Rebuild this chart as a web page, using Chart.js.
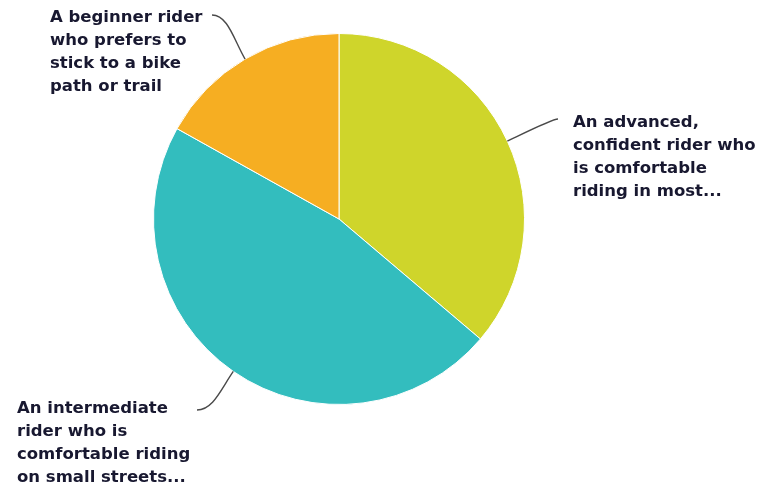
<!DOCTYPE html>
<html>
<head>
<meta charset="utf-8">
<script src="https://cdn.jsdelivr.net/npm/chart.js@4.4.1/dist/chart.umd.min.js"></script>
<style>
  html, body { margin: 0; padding: 0; background: #fff; }
  #wrap { width: 761px; height: 490px; position: relative; }
</style>
</head>
<body>
<div id="wrap"><canvas id="riders"></canvas></div>
<script>
  // Rider types (label lines) and share of responses, in percent
  const riderLabels = [
    ['An advanced,', 'confident rider who', 'is comfortable', 'riding in most...'],
    ['An intermediate', 'rider who is', 'comfortable riding', 'on small streets...'],
    ['A beginner rider', 'who prefers to', 'stick to a bike', 'path or trail']
  ];
  const riderShares = [36.2, 46.9, 16.9];
  const sliceColors = ['#cfd52b', '#33bdbe', '#f6ae22'];

  // Where each callout text block sits and where its leader line ends
  const calloutLayout = [
    { textX: 573, textY: 123, endX: 558, endY: 119, bend: 12, hook: -6 },
    { textX: 17, textY: 409, endX: 197, endY: 410, bend: 22, hook: 16 },
    { textX: 50, textY: 18, endX: 212, endY: 15, bend: 22, hook: 16 }
  ];

  const calloutPlugin = {
    id: 'callouts',
    afterDatasetsDraw(chart) {
      const ctx = chart.ctx;
      const meta = chart.getDatasetMeta(0);
      ctx.save();
      meta.data.forEach((arc, i) => {
        const lay = calloutLayout[i];
        const mid = (arc.startAngle + arc.endAngle) / 2;
        const r = arc.outerRadius;
        const sx = arc.x + Math.cos(mid) * r;
        const sy = arc.y + Math.sin(mid) * r;
        const c1x = arc.x + Math.cos(mid) * (r + lay.bend);
        const c1y = arc.y + Math.sin(mid) * (r + lay.bend);

        // leader line
        ctx.beginPath();
        ctx.moveTo(sx, sy);
        ctx.bezierCurveTo(c1x, c1y, lay.endX + lay.hook, lay.endY, lay.endX, lay.endY);
        ctx.strokeStyle = '#4a4a4a';
        ctx.lineWidth = 1.4;
        ctx.stroke();

        // label text
        ctx.fillStyle = '#181830';
        ctx.font = 'bold 16.5px "DejaVu Sans", sans-serif';
        ctx.textAlign = 'left';
        ctx.textBaseline = 'middle';
        chart.data.labels[i].forEach((line, k) => {
          ctx.fillText(line, lay.textX, lay.textY + k * 23);
        });
      });
      ctx.restore();
    }
  };

  new Chart(document.getElementById('riders'), {
    type: 'pie',
    data: {
      labels: riderLabels,
      datasets: [{
        data: riderShares,
        backgroundColor: sliceColors,
        borderColor: '#ffffff',
        borderWidth: 1,
        hoverOffset: 0
      }]
    },
    options: {
      responsive: true,
      maintainAspectRatio: false,
      animation: false,
      layout: { padding: { top: 33, bottom: 85, left: 153, right: 236 } },
      plugins: {
        legend: { display: false },
        tooltip: { enabled: false }
      }
    },
    plugins: [calloutPlugin]
  });
</script>
</body>
</html>
